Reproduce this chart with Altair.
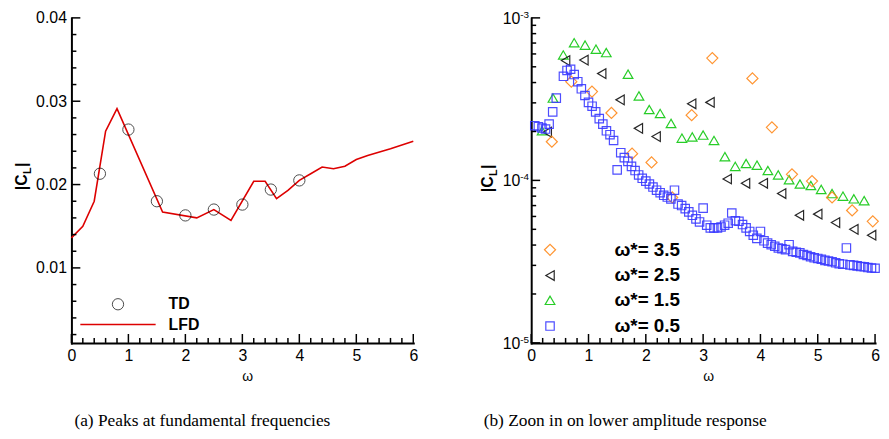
import altair as alt
import pandas as pd

# ---------------- data: (a) peaks at fundamental frequencies ----------------
lfd_omega = [0.0, 0.2, 0.4, 0.6, 0.8, 1.6, 2.2, 2.5, 2.8, 3.2, 3.4, 3.6, 3.8, 4.0,
             4.2, 4.4, 4.6, 4.8, 5.0, 5.2, 5.6, 6.0]
lfd_cl = [0.0136, 0.0150, 0.0180, 0.0264, 0.0291, 0.0167, 0.0160, 0.0170, 0.0157, 0.0204,
          0.0204, 0.0183, 0.0193, 0.0205, 0.0213, 0.0221, 0.0219, 0.0222, 0.0230, 0.0235,
          0.0243, 0.0252]
td_omega = [0.5, 1.0, 1.5, 2.0, 2.5, 3.0, 3.5, 4.0]
td_cl = [0.0213, 0.0266, 0.0180, 0.0163, 0.0170, 0.0176, 0.0194, 0.0205]

# ---------------- data: (b) lower amplitude response ----------------
w35_omega = [0.36, 0.70, 1.06, 1.40, 1.76, 2.10, 2.46, 2.80, 3.16, 3.86, 4.20, 4.55, 4.90,
             5.25, 5.60, 5.96]
w35_cl = [1.73e-4, 4.05e-4, 3.52e-4, 2.6e-4, 1.46e-4, 1.29e-4, 7.85e-5, 2.52e-4, 5.66e-4,
          4.24e-4, 2.12e-4, 1.09e-4, 9.9e-5, 7.85e-5, 6.53e-5, 5.6e-5]

w25_omega = [0.28, 0.60, 0.92, 1.23, 1.55, 1.87, 2.18, 2.80, 3.12, 3.42, 3.74, 4.05, 4.37,
             4.68, 5.00, 5.31, 5.63, 5.94]
w25_cl = [1.98e-4, 5.46e-4, 5.5e-4, 4.54e-4, 3.13e-4, 2.09e-4, 1.86e-4, 2.96e-4, 3.02e-4,
          1.02e-4, 9.6e-5, 9.6e-5, 8.3e-5, 6.1e-5, 6.2e-5, 5.5e-5, 5.0e-5, 4.6e-5]

w15_omega = [0.19, 0.38, 0.56, 0.75, 0.94, 1.13, 1.31, 1.69, 1.88, 2.06, 2.25, 2.44, 2.63,
             2.81, 3.00, 3.19, 3.38, 3.56, 3.75, 3.94, 4.13, 4.31, 4.50, 4.69, 4.88, 5.06,
             5.25, 5.44, 5.63, 5.81]
w15_cl = [2.02e-4, 3.21e-4, 5.91e-4, 7.03e-4, 6.8e-4, 6.42e-4, 6.12e-4, 4.5e-4, 3.31e-4,
          2.73e-4, 2.58e-4, 2.24e-4, 1.82e-4, 1.85e-4, 1.9e-4, 1.76e-4, 1.40e-4, 1.22e-4,
          1.27e-4, 1.24e-4, 1.15e-4, 1.08e-4, 1.01e-4, 9.5e-5, 9.3e-5, 8.8e-5, 8.3e-5,
          8.0e-5, 7.7e-5, 7.5e-5]

w05_omega = [0.0625, 0.125, 0.1875, 0.25, 0.3125, 0.375, 0.4375,
             0.5625, 0.625, 0.6875, 0.75, 0.8125, 0.875, 0.9375, 1.0,
             1.0625, 1.125, 1.1875, 1.25, 1.3125, 1.375, 1.4375, 1.5,
             1.5625, 1.625, 1.6875, 1.75, 1.8125, 1.875, 1.9375, 2.0,
             2.0625, 2.125, 2.1875, 2.25, 2.3125, 2.375, 2.4375, 2.5,
             2.5625, 2.625, 2.6875, 2.75, 2.8125, 2.875, 2.9375, 3.0,
             3.0625, 3.125, 3.1875, 3.25, 3.3125, 3.375, 3.4375, 3.5,
             3.5625, 3.625, 3.6875, 3.75, 3.8125, 3.875, 3.9375, 4.0,
             4.0625, 4.125, 4.1875, 4.25, 4.3125, 4.375, 4.4375, 4.5,
             4.5625, 4.625, 4.6875, 4.75, 4.8125, 4.875, 4.9375, 5.0,
             5.0625, 5.125, 5.1875, 5.25, 5.3125, 5.375, 5.4375, 5.5,
             5.5625, 5.625, 5.6875, 5.75, 5.8125, 5.875, 5.9375, 6.0]
w05_cl = [2.17e-4, 2.14e-4, 2.10e-4, 2.07e-4, 2.22e-4, 2.64e-4, 3.21e-4,
          4.37e-4, 4.75e-4, 4.83e-4, 4.48e-4, 4.05e-4, 3.66e-4, 3.33e-4, 3.02e-4,
          2.86e-4, 2.64e-4, 2.40e-4, 2.22e-4, 2.02e-4, 1.91e-4, 1.76e-4, 1.16e-4,
          1.48e-4, 1.38e-4, 1.31e-4, 1.22e-4, 1.15e-4, 1.08e-4, 1.03e-4, 9.9e-5,
          9.5e-5, 9.1e-5, 8.7e-5, 8.4e-5, 8.1e-5, 7.9e-5, 7.7e-5, 8.7e-5,
          7.15e-5, 7.0e-5, 6.7e-5, 6.4e-5, 6.1e-5, 5.8e-5, 5.55e-5, 6.75e-5,
          5.3e-5, 5.1e-5, 5.1e-5, 5.1e-5, 5.17e-5, 5.3e-5, 5.45e-5, 6.3e-5,
          5.65e-5, 5.6e-5, 5.35e-5, 5.1e-5, 4.85e-5, 4.6e-5, 4.4e-5, 4.85e-5,
          4.25e-5, 4.11e-5, 4.02e-5, 3.93e-5, 3.84e-5, 3.8e-5, 3.75e-5, 4.02e-5,
          3.66e-5, 3.61e-5, 3.58e-5, 3.5e-5, 3.45e-5, 3.39e-5, 3.34e-5, 3.31e-5,
          3.27e-5, 3.22e-5, 3.19e-5, 3.16e-5, 3.11e-5, 3.07e-5, 3.05e-5, 3.84e-5,
          3.02e-5, 3.0e-5, 2.98e-5, 2.95e-5, 2.94e-5, 2.91e-5, 2.89e-5, 2.88e-5]

# ---------------- ticks / labels ----------------
x_major = [0, 1, 2, 3, 4, 5, 6]
x_minor = [0.2, 0.4, 0.6, 0.8, 1.2, 1.4, 1.6, 1.8, 2.2, 2.4, 2.6, 2.8, 3.2, 3.4, 3.6, 3.8,
           4.2, 4.4, 4.6, 4.8, 5.2, 5.4, 5.6, 5.8]
yl_major = [0.01, 0.02, 0.03, 0.04]
yl_minor = [0.002, 0.004, 0.006, 0.008, 0.012, 0.014, 0.016, 0.018, 0.022, 0.024, 0.026,
            0.028, 0.032, 0.034, 0.036, 0.038]
yr_major = [1e-5, 1e-4, 1e-3]
yr_exp = ["-5", "-4", "-3"]
yr_minor = [2e-5, 3e-5, 4e-5, 5e-5, 6e-5, 7e-5, 8e-5, 9e-5,
            2e-4, 3e-4, 4e-4, 5e-4, 6e-4, 7e-4, 8e-4, 9e-4]
legend_left = ["TD", "LFD"]
legend_right = ["ω*= 3.5", "ω*= 2.5", "ω*= 1.5", "ω*= 0.5"]
captions = ["(a) Peaks at fundamental frequencies", "(b) Zoon in on lower amplitude response"]

# ---------------- layout / style ----------------
SANS = "Liberation Sans"
SERIF = "Liberation Serif"
TOP = 8
W_L, W_R, GAP, H = 345, 347, 119, 328
R0 = W_L + GAP
COL = {"3.5": "#ff8a1c", "2.5": "#111111", "1.5": "#10c810", "0.5": "#3a3aff"}
SIZES = {"3.5": 125, "2.5": 95, "1.5": 95, "0.5": 72}

xL = alt.Scale(domain=[0, 6], range=[0, W_L], nice=False, zero=False)
yL = alt.Scale(domain=[0.001, 0.04], range=[H, 0], nice=False, zero=False)
xR = alt.Scale(domain=[0, 6], range=[R0, R0 + W_R], nice=False, zero=False)
yR = alt.Scale(type="log", domain=[1e-5, 1e-3], range=[H, 0], nice=False)

dummy = pd.DataFrame({"a": [0]})


def ax(orient, **kw):
    base = dict(orient=orient, title=None, ticks=False, grid=False, domainColor="black",
                domainWidth=2, domainCap="square", labelFont=SANS, labelFontSize=16,
                labelColor="black", labelFlush=False, labelOverlap=False)
    base.update(kw)
    return alt.Axis(**base)


def txt(t, x, y, size, weight="normal", font=SANS, align="left", baseline="middle",
        angle=0, dx=0, dy=0):
    return alt.Chart(dummy).mark_text(
        text=t, fontSize=size, fontWeight=weight, font=font, align=align,
        baseline=baseline, angle=angle, dx=dx, dy=dy, color="black"
    ).encode(x=alt.value(x), y=alt.value(y))


def ylabel_title(x, y):
    return [
        txt("|C", x, y, 16, "bold", baseline="alphabetic", angle=270),
        txt("L", x, y, 11, "bold", baseline="alphabetic", angle=270, dx=16.5, dy=4),
        txt("|", x, y, 16, "bold", baseline="alphabetic", angle=270, dx=23.5),
    ]


def xticks(vals, scale, length):
    return alt.Chart(pd.DataFrame({"v": vals})).mark_rule(color="black", strokeWidth=1.5).encode(
        x=alt.X("v:Q", scale=scale, axis=None), y=alt.value(H), y2=alt.value(H - length))


def yticks(vals, scale, x0, length):
    return alt.Chart(pd.DataFrame({"v": vals})).mark_rule(color="black", strokeWidth=1.5).encode(
        y=alt.Y("v:Q", scale=scale, axis=None), x=alt.value(x0), x2=alt.value(x0 + length))


# ---------------- left panel ----------------
lfd = pd.DataFrame({"omega": lfd_omega, "cl": lfd_cl})
td = pd.DataFrame({"omega": td_omega, "cl": td_cl})

line_l = alt.Chart(lfd).mark_line(color="#dd0000", strokeWidth=1.6).encode(
    x=alt.X("omega:Q", scale=xL, axis=ax("bottom", values=x_major, format="d", labelPadding=5)),
    y=alt.Y("cl:Q", scale=yL, axis=ax("left", values=yl_major, format=".2f", labelPadding=5)),
)
pts_l = alt.Chart(td).mark_point(shape="circle", filled=False, size=130, color="black",
                                 strokeWidth=1).encode(
    x=alt.X("omega:Q", scale=xL, axis=None), y=alt.Y("cl:Q", scale=yL, axis=None))

left_layers = [
    line_l, pts_l,
    xticks(x_major, xL, 9), xticks(x_minor, xL, 5),
    yticks(yl_major, yL, 0, 9), yticks(yl_minor, yL, 0, 5),
    alt.Chart(dummy).mark_point(shape="circle", filled=False, size=130, color="black",
                                strokeWidth=1).encode(x=alt.value(47), y=alt.value(289)),
    alt.Chart(dummy).mark_rule(color="#dd0000", strokeWidth=1.6).encode(
        x=alt.value(9), x2=alt.value(85), y=alt.value(309.5)),
    txt(legend_left[0], 98, 289, 16, "bold"),
    txt(legend_left[1], 98, 309.5, 16, "bold"),
    txt("ω", W_L / 2, H + 34, 14),
    txt(captions[0], 3, 407, 17.5, font=SERIF),
] + ylabel_title(-45, 174)

# ---------------- right panel ----------------
series = [
    ("1.5", w15_omega, w15_cl, "triangle-up"),
    ("2.5", w25_omega, w25_cl, "triangle-left"),
    ("3.5", w35_omega, w35_cl, "diamond"),
    ("0.5", w05_omega, w05_cl, "square"),
]
right_layers = []
for i, (key, om, cl, shp) in enumerate(series):
    df = pd.DataFrame({"omega": om, "cl": cl})
    if i == 0:
        xa = ax("bottom", values=x_major, format="d", labelPadding=5)
        ya = ax("left", labels=False, offset=-R0)
    else:
        xa, ya = None, None
    right_layers.append(
        alt.Chart(df).mark_point(shape=shp, filled=False, size=SIZES[key], color=COL[key],
                                 strokeWidth=1.2, opacity=0.9).encode(
            x=alt.X("omega:Q", scale=xR, axis=xa), y=alt.Y("cl:Q", scale=yR, axis=ya)))

lab_df = pd.DataFrame({"v": yr_major, "e": yr_exp})
right_layers += [
    xticks(x_major, xR, 9), xticks(x_minor, xR, 5),
    yticks(yr_major, yR, R0, 9), yticks(yr_minor, yR, R0, 5),
    alt.Chart(lab_df).mark_text(text="10", font=SANS, fontSize=16, align="right",
                                baseline="middle", dy=1, color="black").encode(
        x=alt.value(R0 - 11), y=alt.Y("v:Q", scale=yR, axis=None)),
    alt.Chart(lab_df).mark_text(font=SANS, fontSize=10, align="left", baseline="middle",
                                dy=-3, color="black").encode(
        x=alt.value(R0 - 11), y=alt.Y("v:Q", scale=yR, axis=None), text="e:N"),
    txt("ω", R0 + W_R / 2, H + 34, 14),
    txt(captions[1], R0 - 48, 407, 17.5, font=SERIF),
] + ylabel_title(R0 - 39, 176)

leg_rows = [234, 260, 285, 311]
leg_shapes = [("3.5", "diamond"), ("2.5", "triangle-left"), ("1.5", "triangle-up"),
              ("0.5", "square")]
for (key, shp), yy, lab in zip(leg_shapes, leg_rows, legend_right):
    right_layers.append(
        alt.Chart(dummy).mark_point(shape=shp, filled=False, size=SIZES[key], color=COL[key],
                                    strokeWidth=1.2, opacity=0.9).encode(
            x=alt.value(R0 + 19), y=alt.value(yy)))
    right_layers.append(txt(lab, R0 + 84, yy, 19, "bold"))

chart = alt.layer(*left_layers, *right_layers).resolve_scale(
    x="independent", y="independent"
).properties(
    width=W_L + GAP + W_R, height=H,
    padding={"left": 64, "top": TOP, "right": 6, "bottom": 439 - 8 - TOP - H},
    autosize=alt.AutoSizeParams(type="none"),
).configure_view(stroke=None)

chart.save("out.html", embed_options={"renderer": "svg", "actions": False})
